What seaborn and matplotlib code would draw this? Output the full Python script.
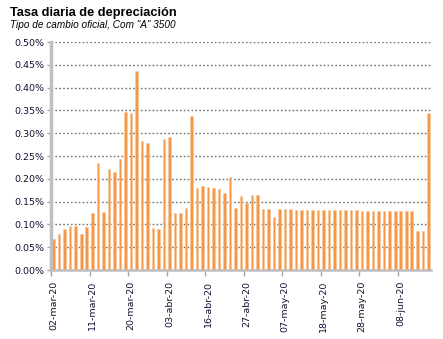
import matplotlib
matplotlib.use("Agg")
import matplotlib.pyplot as plt
import seaborn as sns
import pandas as pd
from matplotlib.ticker import FuncFormatter, FixedLocator

dates = ["02-mar-20", "03-mar-20", "04-mar-20", "05-mar-20", "06-mar-20", "09-mar-20", "10-mar-20",
         "11-mar-20", "12-mar-20", "13-mar-20", "16-mar-20", "17-mar-20", "18-mar-20", "19-mar-20",
         "20-mar-20", "25-mar-20", "26-mar-20", "27-mar-20", "30-mar-20", "31-mar-20", "01-abr-20",
         "03-abr-20", "06-abr-20", "07-abr-20", "08-abr-20", "13-abr-20", "14-abr-20", "15-abr-20",
         "16-abr-20", "17-abr-20", "20-abr-20", "21-abr-20", "22-abr-20", "23-abr-20", "24-abr-20",
         "27-abr-20", "28-abr-20", "29-abr-20", "30-abr-20", "04-may-20", "05-may-20", "06-may-20",
         "07-may-20", "08-may-20", "11-may-20", "12-may-20", "13-may-20", "14-may-20", "15-may-20",
         "18-may-20", "19-may-20", "20-may-20", "21-may-20", "22-may-20", "26-may-20", "27-may-20",
         "28-may-20", "29-may-20", "01-jun-20", "02-jun-20", "03-jun-20", "04-jun-20", "05-jun-20",
         "08-jun-20", "09-jun-20", "10-jun-20", "11-jun-20", "12-jun-20", "16-jun-20"]

values = [0.067, 0.079, 0.090, 0.096, 0.096, 0.079, 0.095,
          0.125, 0.235, 0.127, 0.222, 0.214, 0.244, 0.346,
          0.344, 0.436, 0.284, 0.278, 0.092, 0.090, 0.288,
          0.292, 0.124, 0.124, 0.137, 0.337, 0.180, 0.184,
          0.181, 0.180, 0.178, 0.168, 0.203, 0.137, 0.162,
          0.148, 0.164, 0.164, 0.133, 0.133, 0.117, 0.133,
          0.133, 0.133, 0.131, 0.131, 0.131, 0.131, 0.131,
          0.131, 0.131, 0.131, 0.131, 0.131, 0.131, 0.131,
          0.129, 0.129, 0.129, 0.129, 0.129, 0.129, 0.129,
          0.129, 0.129, 0.129, 0.085, 0.085, 0.344]

tick_labels = ["02-mar-20", "11-mar-20", "20-mar-20", "03-abr-20", "16-abr-20",
               "27-abr-20", "07-may-20", "18-may-20", "28-may-20", "08-jun-20"]

title = "Tasa diaria de depreciación"
subtitle = "Tipo de cambio oficial, Com \"A\" 3500"

sns.set_theme(style="white")
plt.rcParams['font.family'] = ['DejaVu Sans']

df = pd.DataFrame({"fecha": dates, "valor": values})

fig = plt.figure(figsize=(4.43, 3.39), dpi=100)
ax = fig.add_axes([0.115, 0.2035, 0.858, 0.6725])

sns.barplot(data=df, x="fecha", y="valor", ax=ax, color="#F79646",
            width=0.46, saturation=1, edgecolor="#FBC79A", linewidth=0.4)

ax.set_ylim(0, 0.5)
ax.set_xlim(-0.5, len(dates) - 0.5)
ax.set_yticks([i * 0.05 for i in range(11)])
ax.yaxis.set_major_formatter(FuncFormatter(lambda v, p: f"{v:.2f}%"))
ax.grid(axis="y", linestyle=(0, (1.2, 1.6)), color="#6F6F6F", linewidth=1.0)
ax.set_axisbelow(True)

tick_pos = [dates.index(t) for t in tick_labels]
ax.set_xticks(tick_pos)
ax.set_xticklabels(tick_labels, rotation=90, fontsize=6.8, color="#111133")
ax.xaxis.set_minor_locator(FixedLocator([p - 0.5 for p in tick_pos]))
ax.tick_params(axis="x", which="major", length=0, pad=8)
ax.tick_params(axis="x", which="minor", length=4, width=1, color="#A6A6A6", bottom=True)
ax.tick_params(axis="y", length=3, width=1, color="#A6A6A6", left=True, labelsize=6.8,
               labelcolor="#111133", pad=2)

ax.set_xlabel("")
ax.set_ylabel("")
for s in ["top", "right"]:
    ax.spines[s].set_visible(False)
ax.spines["left"].set_color("#BFBFBF")
ax.spines["left"].set_linewidth(2.5)
ax.spines["bottom"].set_color("#BFBFBF")
ax.spines["bottom"].set_linewidth(1.8)

fig.text(10 / 443, 1 - 13 / 339, title, fontsize=9.2, fontweight="bold", va="center", ha="left",
         color="black", family=["Liberation Sans", "DejaVu Sans"])
fig.text(10 / 443, 1 - 25.5 / 339, subtitle, fontsize=7.2, style="italic", va="center", ha="left",
         color="black", family=["Liberation Sans", "DejaVu Sans"])

fig.savefig("out.png", dpi=100)
